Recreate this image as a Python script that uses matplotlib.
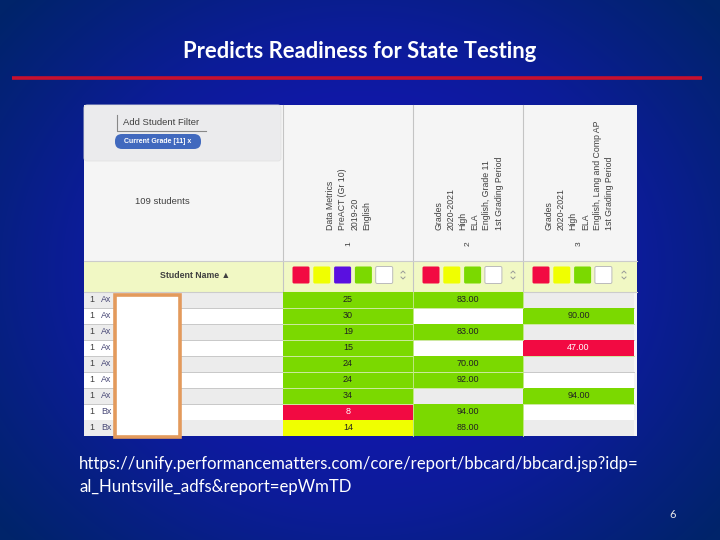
import numpy as np
import matplotlib
matplotlib.use("Agg")
import matplotlib.pyplot as plt
from matplotlib.patches import Rectangle, FancyBboxPatch
from matplotlib.colors import LinearSegmentedColormap

title = "Predicts Readiness for State Testing"
url_lines = ["https://unify.performancematters.com/core/report/bbcard/bbcard.jsp?idp=",
             "al_Huntsville_adfs&report=epWmTD"]
page_no = "6"
student_prefix = ["Ax", "Ax", "Ax", "Ax", "Ax", "Ax", "Ax", "Bx", "Bx"]
col1_values = ["25", "30", "19", "15", "24", "24", "34", "8", "14"]
col2_values = ["83.00", "", "83.00", "", "70.00", "92.00", "", "94.00", "88.00"]
col3_values = ["", "90.00", "", "47.00", "", "", "94.00", "", ""]
col1_levels = ["g", "g", "g", "g", "g", "g", "g", "r", "y"]
col2_levels = ["g", "", "g", "", "g", "g", "", "g", "g"]
col3_levels = ["", "g", "", "r", "", "", "g", "", ""]
col1_header = ["1", "Data Metrics", "PreACT (Gr 10)", "2019-20", "English"]
col2_header = ["2", "Grades", "2020-2021", "High", "ELA", "English, Grade 11", "1st Grading Period"]
col3_header = ["3", "Grades", "2020-2021", "High", "ELA", "English, Lang and Comp AP", "1st Grading Period"]
col1_swatches = ["r", "y", "p", "g", "w"]
col2_swatches = ["r", "y", "g", "w"]
col3_swatches = ["r", "y", "g", "w"]

COL = {"r": "#f20a42", "y": "#f0ff00", "g": "#7bd900", "p": "#5a10e0", "w": "#ffffff"}
TXT = "#404040"
SANS = "Liberation Sans"

fig = plt.figure(figsize=(7.2, 5.4), dpi=100)
ax = fig.add_axes([0, 0, 1, 1])
ax.set_xlim(0, 720)
ax.set_ylim(540, 0)
ax.axis("off")

# slide background: radial blue glow
yy, xx = np.mgrid[0:540, 0:720]
r = np.hypot((xx - 360) / 470, (yy - 270) / 400)
cmap = LinearSegmentedColormap.from_list("bg", ["#1518b4", "#1018a8", "#0c1c98", "#062080", "#00246a"])
ax.imshow(r, extent=(0, 720, 540, 0), cmap=cmap, vmin=0.2, vmax=1.0, zorder=0, aspect="auto")

F = "Lato"
ax.text(360, 51, title, color="white", fontsize=15.85, fontweight="bold", family=F, ha="center", va="center")
ax.plot([12, 702], [78, 78], color="#c8102e", lw=2.6, zorder=2, solid_capstyle="butt")

# table frame
L, R, T, B = 84, 637, 105, 436
ax.add_patch(Rectangle((L, T), R - L, B - T, fc="#f5f5f5", ec="none", zorder=1))
col_x = [283, 413, 523, 634]
col_w = [130, 110, 111]
HDR, FILT = 261, 291.5
ax.add_patch(Rectangle((L, HDR), R - L, FILT - HDR, fc="#f1f8c4", ec="none", zorder=2))
ax.add_patch(FancyBboxPatch((L, T), 197, 56, boxstyle="round,pad=0,rounding_size=3", fc="#ebebed", ec="#e2e2e2", lw=0.6, zorder=2))
ax.plot([117, 117, 206], [115, 131, 131], color="#888888", lw=0.8, zorder=3)
ax.text(161.5, 122.5, "Add Student Filter", fontsize=6.8, color=TXT, ha="center", va="center", zorder=3, family=SANS)
ax.add_patch(FancyBboxPatch((115, 134), 86, 15, boxstyle="round,pad=0,rounding_size=7", fc="#4169be", ec="none", zorder=3))
ax.text(158, 141.5, "Current Grade [11] x", fontsize=5, color="white", ha="center", va="center", zorder=4, family=SANS, fontweight="bold")
ax.text(162, 202, "109 students", fontsize=6.8, color=TXT, ha="center", va="center", zorder=3, family=SANS)
ax.text(195, 275.5, "Student Name \u25b2", fontsize=6.3, color=TXT, fontweight="bold", ha="center", va="center", zorder=3, family=[SANS, "DejaVu Sans"])

for x in col_x[:3]:
    ax.plot([x, x], [T, FILT], color="#c4c4c4", lw=0.8, zorder=3)
ax.plot([L, R], [HDR, HDR], color="#cccccc", lw=0.8, zorder=3)
ax.plot([L, R], [FILT, FILT], color="#cccccc", lw=0.8, zorder=3)

# rotated column headers
for left, width, header in zip(col_x[:3], col_w, [col1_header, col2_header, col3_header]):
    n = len(header) - 1
    cx = left + width / 2 + 0.5
    start = cx - (n - 1) * 12 / 2
    ax.text(cx, 243.5, header[0], rotation=90, fontsize=6, color=TXT, ha="center", va="center", zorder=3, family=SANS)
    for i, line in enumerate(header[1:]):
        ax.text(start + i * 12.1, 230.5, line, rotation=90, fontsize=6.35, color=TXT,
                ha="center", va="bottom", zorder=3, family=SANS)

# filter swatches and sort arrows
for left, width, swatches in zip(col_x[:3], col_w, [col1_swatches, col2_swatches, col3_swatches]):
    for i, s in enumerate(swatches):
        ax.add_patch(FancyBboxPatch((left + 9.5 + i * 20.8, 266.5), 17, 17, boxstyle="round,pad=0,rounding_size=1.5",
                                    fc=COL[s], ec="#bbbbbb" if s == "w" else "none", lw=0.7, zorder=3))
    ax_x = left + width - 10
    ax.plot([ax_x - 2, ax_x, ax_x + 2], [273, 271, 273], color="#999999", lw=0.7, zorder=3)
    ax.plot([ax_x - 2, ax_x, ax_x + 2], [277, 279, 277], color="#999999", lw=0.7, zorder=3)

# body rows
row_h = (B - FILT) / len(col1_values)
columns = [(col1_values, col1_levels), (col2_values, col2_levels), (col3_values, col3_levels)]
for i, prefix in enumerate(student_prefix):
    y = FILT + i * row_h
    bg = "#ececec" if i % 2 == 0 else "#ffffff"
    ax.add_patch(Rectangle((L, y), col_x[3] - L, row_h, fc=bg, ec="none", zorder=2))
    ax.text(92, y + row_h / 2, "1", fontsize=6.4, color=TXT, ha="center", va="center", zorder=3, family=SANS)
    ax.text(101, y + row_h / 2, prefix, fontsize=6.4, color="#4a4a78", ha="left", va="center", zorder=3, family=SANS)
    if i < 7:
        ax.plot([L, col_x[3]], [y + row_h, y + row_h], color="#c8c8c8", lw=0.7, zorder=3)
    for c, (vals, lvls) in enumerate(columns):
        x0, x1 = col_x[c], col_x[c + 1]
        if lvls[i]:
            ax.add_patch(Rectangle((x0, y), x1 - x0, row_h, fc=COL[lvls[i]], ec="none", zorder=3))
            if i < 7:
                ax.plot([x0, x1], [y + row_h, y + row_h], color="#cdeaa0", lw=0.7, zorder=3.5)
            if c < 2:
                ax.plot([x1, x1], [y, y + row_h], color="#bfe880", lw=0.7, zorder=3.5)
        if vals[i]:
            ax.text((x0 + x1) / 2, y + row_h / 2, vals[i], fontsize=6.5,
                    color="white" if lvls[i] == "r" else "#222222", ha="center", va="center", zorder=4, family=SANS)

# redaction box
ax.add_patch(Rectangle((115, 294.5), 65, 142, fc="white", ec="#e39a5c", lw=2.6, zorder=5))

ax.text(79, 464, url_lines[0], color="white", fontsize=12.05, family=F, ha="left", va="center")
ax.text(79, 487, url_lines[1], color="white", fontsize=12.05, family=F, ha="left", va="center")
ax.text(673, 514, page_no, color="#e8e8e8", fontsize=8, family=F, ha="center", va="center")

fig.savefig("out.png", dpi=100)
